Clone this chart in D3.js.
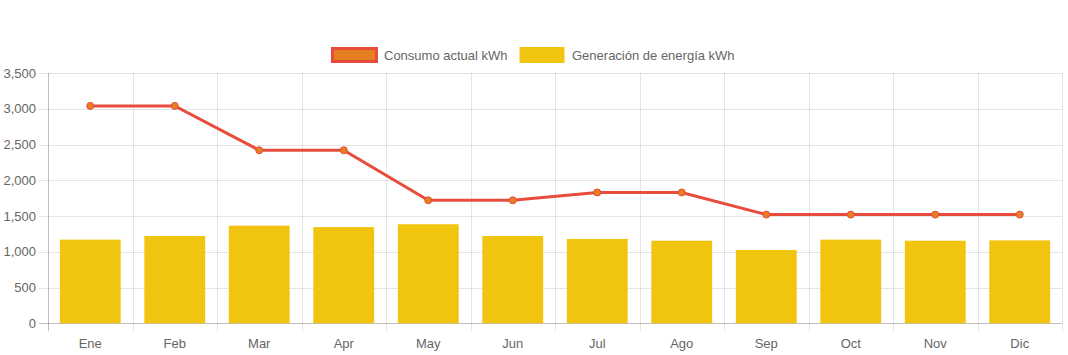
<!DOCTYPE html>
<html><head><meta charset="utf-8">
<script src="https://cdn.jsdelivr.net/npm/d3@7"></script>
<style>html,body{margin:0;padding:0;background:#fff;}svg{display:block;font-family:"Liberation Sans",Arial,Helvetica,sans-serif;}</style>
</head><body>
<svg id="chart" width="1068" height="355"></svg>
<script>
const months = ["Ene","Feb","Mar","Apr","May","Jun","Jul","Ago","Sep","Oct","Nov","Dic"];
const consumo = [3040,3040,2420,2420,1720,1720,1830,1830,1520,1520,1520,1520];
const generacion = [1170,1220,1365,1345,1385,1220,1180,1155,1025,1170,1155,1160];
const yTicks = [0,500,1000,1500,2000,2500,3000,3500];
const seriesNames = ["Consumo actual kWh","Generación de energía kWh"];

(function(){
const svg = d3.select("#chart");
const pL = 48, pR = 1062, pT = 73, pB = 323.3;
const x = d3.scaleBand().domain(months).range([pL, pR]).paddingInner(0).paddingOuter(0);
const y = d3.scaleLinear().domain([0,3500]).range([pB, pT]);
const fmt = d3.format(",");
const grid = "rgba(0,0,0,0.1)";
const txt = "#666";
const fs = 13;

const gy = svg.append("g");
yTicks.forEach(t => {
  const yy = Math.round(y(t))+0.5;
  gy.append("line").attr("x1", pL-9).attr("x2", pR).attr("y1", yy).attr("y2", yy)
    .attr("stroke", t===0 ? "rgba(0,0,0,0.25)" : grid).attr("stroke-width",1);
  gy.append("text").attr("x", pL-12).attr("y", y(t)).attr("dy","0.35em").attr("text-anchor","end")
    .attr("font-size",fs).attr("fill",txt).text(fmt(t));
});
const bounds = months.map(m => x(m)).concat([pR]);
bounds.forEach((b,i) => {
  svg.append("line").attr("x1", Math.round(b)+0.5).attr("x2", Math.round(b)+0.5).attr("y1", pT).attr("y2", pB+8)
    .attr("stroke", i===0 ? "rgba(0,0,0,0.25)" : grid).attr("stroke-width",1);
});
months.forEach(m => {
  svg.append("text").attr("x", x(m)+x.bandwidth()/2).attr("y", 343).attr("dy","0.35em").attr("text-anchor","middle")
    .attr("font-size",fs).attr("fill",txt).text(m);
});

const bw = x.bandwidth()*0.72;
svg.append("g").selectAll("rect").data(generacion).join("rect")
  .attr("x",(d,i)=>x(months[i])+x.bandwidth()/2-bw/2)
  .attr("width",bw)
  .attr("y",d=>y(d)).attr("height",d=>y(0)-y(d))
  .attr("fill","#f1c40f");

const line = d3.line().x((d,i)=>x(months[i])+x.bandwidth()/2).y(d=>y(d));
svg.append("path").datum(consumo).attr("d",line).attr("fill","none").attr("stroke","#e74c3c").attr("stroke-width",3);
svg.append("g").selectAll("circle").data(consumo).join("circle")
  .attr("cx",(d,i)=>x(months[i])+x.bandwidth()/2).attr("cy",d=>y(d)).attr("r",3.5)
  .attr("fill","#e67e22").attr("stroke","#e74c3c").attr("stroke-width",1);

const lg = svg.append("g");
lg.append("rect").attr("x",332.5).attr("y",48.5).attr("width",44).attr("height",13).attr("fill","#e67e22").attr("stroke","#e74c3c").attr("stroke-width",3);
lg.append("text").attr("x",384).attr("y",55).attr("dy","0.35em").attr("font-size",fs).attr("fill",txt).text(seriesNames[0]);
lg.append("rect").attr("x",519.5).attr("y",47).attr("width",45).attr("height",16).attr("fill","#f1c40f");
lg.append("text").attr("x",572).attr("y",55).attr("dy","0.35em").attr("font-size",fs).attr("fill",txt).text(seriesNames[1]);
})();
</script>
</body></html>
